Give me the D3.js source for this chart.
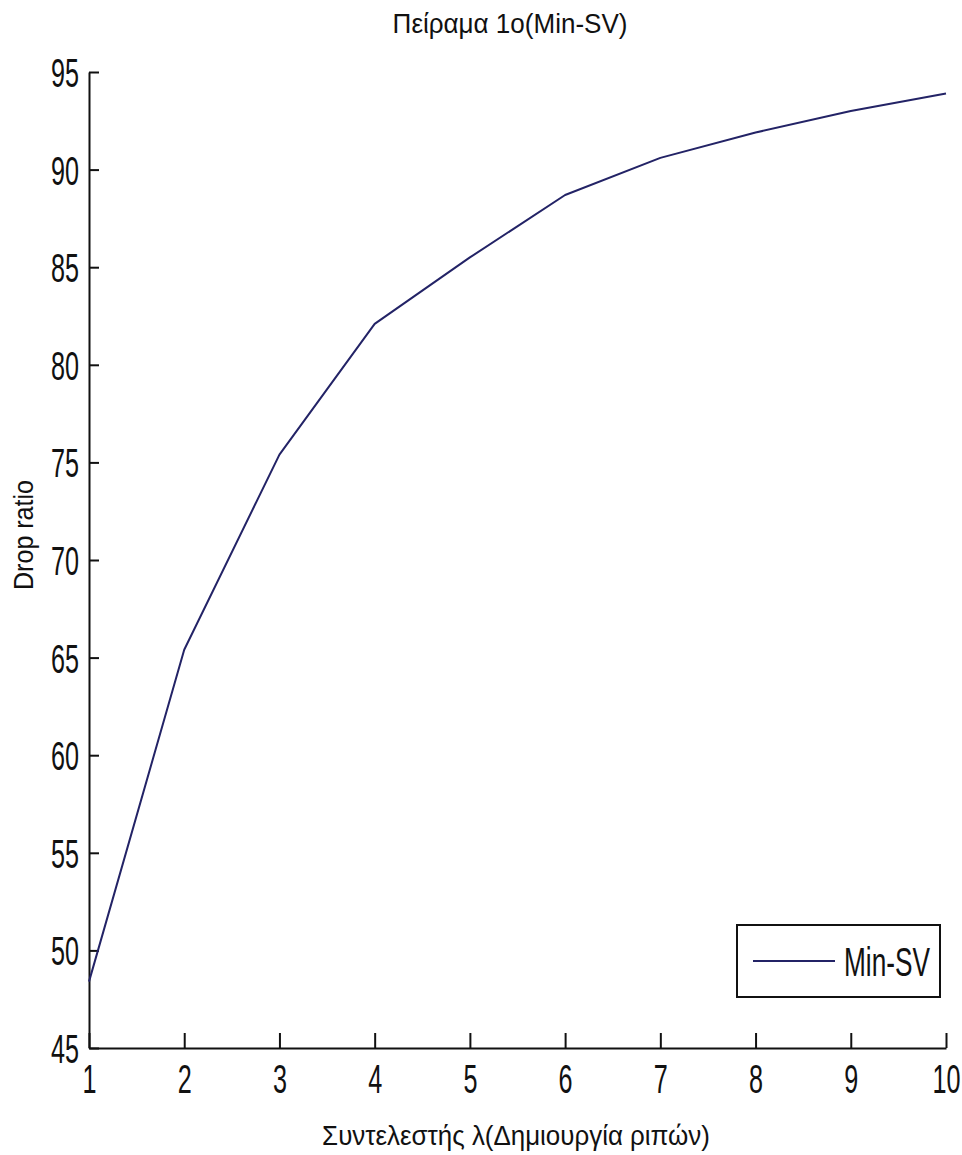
<!DOCTYPE html>
<html>
<head>
<meta charset="utf-8">
<script src="https://cdn.jsdelivr.net/npm/d3@7"></script>
<style>
  html, body { margin: 0; padding: 0; background: #fff; }
  svg { display: block; }
  text { font-family: "Liberation Sans", Arial, sans-serif; fill: #111; }
</style>
</head>
<body>
<svg id="chart" width="962" height="1155"></svg>
<script>
// Drop ratio versus the coefficient λ
const lambdaValues = [1, 2, 3, 4, 5, 6, 7, 8, 9, 10];
const dropRatio    = [48.4, 65.4, 75.4, 82.1, 85.5, 88.7, 90.6, 91.9, 93.0, 93.9];
const xTicks = [1, 2, 3, 4, 5, 6, 7, 8, 9, 10];
const yTicks = [45, 50, 55, 60, 65, 70, 75, 80, 85, 90, 95];
const seriesName = "Min-SV";
const titleText = "Πείραμα 1ο(Min-SV)";
const xLabelText = "Συντελεστής λ(Δημιουργία ριπών)";
const yLabelText = "Drop ratio";

const svg = d3.select("#chart");
const ink = "#111";
const lineColor = "#232366";
const narrow = 0.63;   // horizontal squeeze of the tick typeface

const x = d3.scaleLinear().domain([1, 10]).range([89, 946]);
const y = d3.scaleLinear().domain([45, 95]).range([1048, 72]);

// Left axis, ticks pointing into the plot
const yAxis = d3.axisLeft(y).tickValues(yTicks).tickSizeInner(-10).tickSizeOuter(0).tickPadding(10);
const gy = svg.append("g").attr("transform", `translate(${x.range()[0]},0)`).call(yAxis);
gy.select(".domain").attr("stroke", ink).attr("stroke-width", 2);
gy.selectAll(".tick line").attr("stroke", ink).attr("stroke-width", 2);
gy.selectAll(".tick text")
  .attr("font-size", 40).attr("font-family", "Liberation Sans, Arial, sans-serif")
  .attr("fill", ink).attr("dy", "0.36em")
  .attr("x", -10 / narrow)
  .attr("transform", `scale(${narrow},1)`);

// Bottom axis, ticks pointing into the plot
const xAxis = d3.axisBottom(x).tickValues(xTicks).tickSizeInner(-15).tickSizeOuter(0).tickPadding(17);
const gx = svg.append("g").attr("transform", `translate(0,${y.range()[0]})`).call(xAxis);
gx.select(".domain").attr("stroke", ink).attr("stroke-width", 2);
gx.selectAll(".tick line").attr("stroke", ink).attr("stroke-width", 2);
gx.selectAll(".tick text")
  .attr("font-size", 40).attr("font-family", "Liberation Sans, Arial, sans-serif")
  .attr("fill", ink)
  .attr("transform", `scale(${narrow},1)`);

// Data line
const line = d3.line().x((d, i) => x(lambdaValues[i])).y(d => y(d));
svg.append("path")
  .datum(dropRatio)
  .attr("d", line)
  .attr("fill", "none")
  .attr("stroke", lineColor)
  .attr("stroke-width", 2)
  .attr("stroke-linejoin", "round");

// Text squeezed horizontally to a given width, anchored at (cx, cy)
function squeezedText(parent, str, size, width, cx, cy, anchor, rotate) {
  const g = parent.append("g")
    .attr("transform", `translate(${cx},${cy})` + (rotate ? ` rotate(${rotate})` : ""));
  const t = g.append("text").attr("font-size", size).attr("text-anchor", anchor).text(str);
  const natural = t.node().getComputedTextLength();
  t.attr("transform", `scale(${width / natural},1)`);
  return t;
}

// Title and axis titles
squeezedText(svg, titleText, 28, 235, 510, 33, "middle");
squeezedText(svg, xLabelText, 28, 388, 516, 1145, "middle");
squeezedText(svg, yLabelText, 28, 110, 33, 535, "middle", -90);

// Legend
const legend = svg.append("g");
legend.append("rect")
  .attr("x", 737).attr("y", 925).attr("width", 203).attr("height", 72)
  .attr("fill", "#fff").attr("stroke", ink).attr("stroke-width", 2);
legend.append("line")
  .attr("x1", 753).attr("x2", 835).attr("y1", 961).attr("y2", 961)
  .attr("stroke", lineColor).attr("stroke-width", 2);
squeezedText(legend, seriesName, 40, 86, 844, 976, "start");
</script>
</body>
</html>
